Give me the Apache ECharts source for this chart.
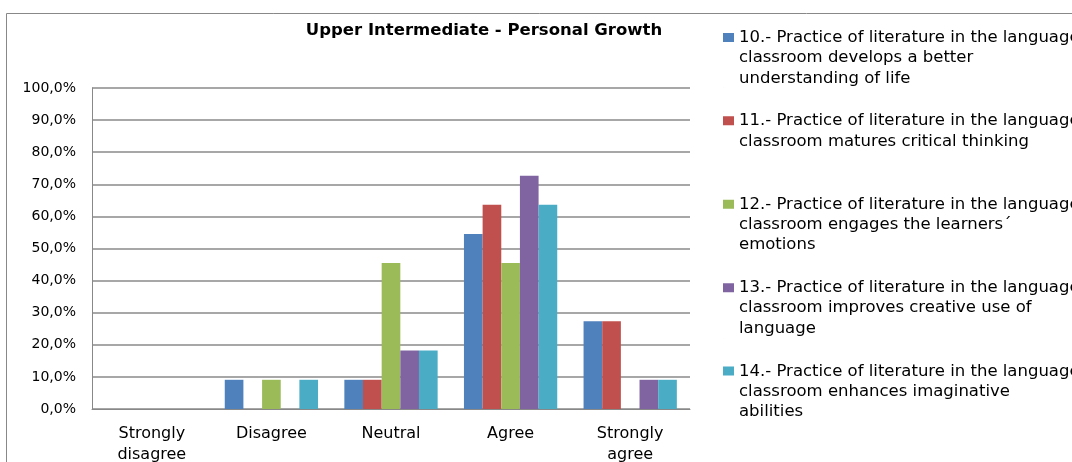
<!DOCTYPE html>
<html>
<head>
<meta charset="utf-8">
<style>
  html, body { margin: 0; padding: 0; background: #fff; }
  #chart { width: 1072px; height: 462px; }
</style>
<script src="https://cdn.jsdelivr.net/npm/echarts@6/dist/echarts.min.js"></script>
</head>
<body>
<div id="chart"></div>
<script>
  // categories (answer scale)
  var categories = ['Strongly\ndisagree', 'Disagree', 'Neutral', 'Agree', 'Strongly\nagree'];

  // series names and the way the legend breaks them into lines
  var seriesNames = [
    '10.- Practice of literature in the language classroom develops a better understanding of life',
    '11.- Practice of literature in the language classroom matures critical thinking',
    '12.- Practice of literature in the language classroom engages the learners´ emotions',
    '13.- Practice of literature in the language classroom improves creative use of language',
    '14.- Practice of literature in the language classroom enhances imaginative abilities'
  ];
  var legendLines = [
    ['10.- Practice of literature in the language', 'classroom develops a better', 'understanding of life'],
    ['11.- Practice of literature in the language', 'classroom matures critical thinking', ' '],
    ['12.- Practice of literature in the language', 'classroom engages the learners´', 'emotions'],
    ['13.- Practice of literature in the language', 'classroom improves creative use of', 'language'],
    ['14.- Practice of literature in the language', 'classroom enhances imaginative', 'abilities']
  ];

  // percentages per category
  var q10 = [0, 9.1, 9.1, 54.5, 27.3];
  var q11 = [0, 0, 9.1, 63.6, 27.3];
  var q12 = [0, 9.1, 45.5, 45.5, 0];
  var q13 = [0, 0, 18.2, 72.7, 9.1];
  var q14 = [0, 9.1, 18.2, 63.6, 9.1];

  var colors = ['#4F81BD', '#C0504D', '#9BBB59', '#8064A2', '#4BACC6'];

  var chart = echarts.init(document.getElementById('chart'));

  var allData = [q10, q11, q12, q13, q14];
  var series = [];
  for (var i = 0; i < allData.length; i++) {
    series.push({
      name: seriesNames[i],
      type: 'bar',
      data: allData[i],
      barGap: 0,
      barCategoryGap: '22%',
      itemStyle: { color: colors[i] }
    });
  }

  var option = {
    animation: false,
    color: colors,
    title: {
      text: 'Upper Intermediate - Personal Growth',
      left: 484,
      top: 22,
      padding: 0,
      textAlign: 'center',
      textStyle: {
        fontFamily: 'DejaVu Sans',
        fontSize: 16.5,
        fontWeight: 'bold',
        color: '#000'
      }
    },
    legend: {
      orient: 'vertical',
      left: 723,
      top: 27.5,
      padding: 0,
      itemGap: 22.5,
      itemWidth: 11,
      itemHeight: 60,
      symbolKeepAspect: false,
      icon: 'path://M0,0.5h1v0.9h-1z M0,0h0.01v0.01h-0.01z M0,5.99h0.01v0.01h-0.01z',
      data: seriesNames,
      formatter: function (name) {
        return legendLines[seriesNames.indexOf(name)].join('\n');
      },
      textStyle: {
        fontFamily: 'DejaVu Sans',
        fontSize: 16.5,
        lineHeight: 20.3,
        color: '#000'
      }
    },
    grid: {
      left: 92,
      right: 382,
      top: 88,
      bottom: 53,
      outerBoundsMode: 'none',
      containLabel: false
    },
    xAxis: {
      type: 'category',
      data: categories,
      axisLine: { show: true, lineStyle: { color: '#888', width: 1 } },
      axisTick: { show: false },
      axisLabel: {
        margin: 14,
        fontFamily: 'DejaVu Sans',
        fontSize: 16,
        lineHeight: 21,
        color: '#000'
      }
    },
    yAxis: {
      type: 'value',
      min: 0,
      max: 100,
      interval: 10,
      axisLine: { show: true, lineStyle: { color: '#888', width: 1 } },
      axisTick: { show: false },
      splitLine: { show: true, lineStyle: { color: '#8a8a8a', width: 1.5 } },
      axisLabel: {
        margin: 16,
        fontFamily: 'DejaVu Sans',
        fontSize: 14,
        color: '#000',
        formatter: function (v) {
          return v.toFixed(1).replace('.', ',') + '%';
        }
      }
    },
    graphic: [{
      type: 'rect',
      shape: { x: 6.5, y: 13.5, width: 1200, height: 600 },
      style: { fill: 'none', stroke: '#888', lineWidth: 1 },
      silent: true
    }],
    series: series
  };

  chart.setOption(option);
</script>
</body>
</html>
